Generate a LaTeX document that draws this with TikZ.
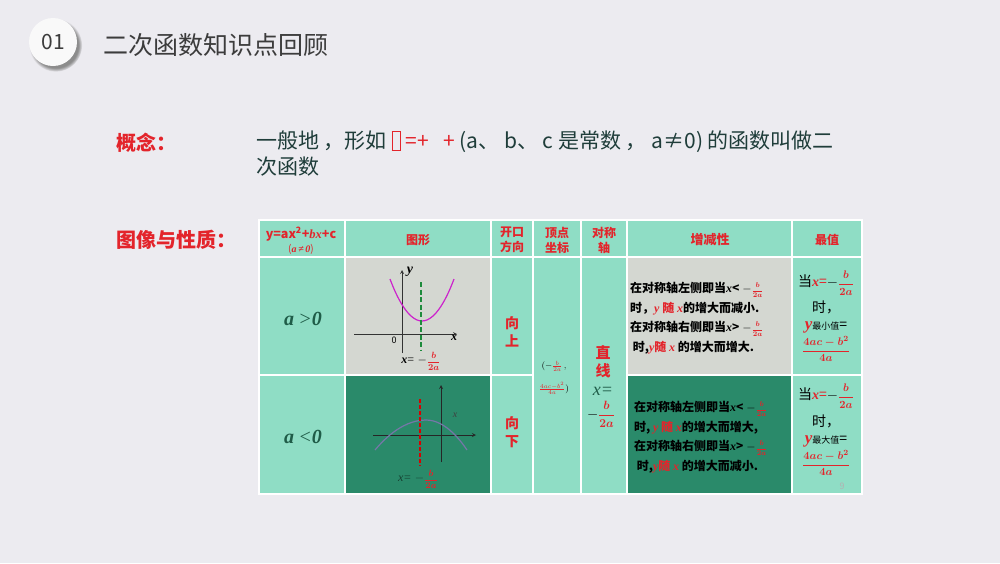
\documentclass[tikz,border=0pt]{standalone}
\usepackage{amsmath, amssymb, bm}
\usepackage[no-math]{fontspec}
\setmainfont{Noto Sans CJK SC}
\newfontfamily\tnr{Liberation Serif}
\usetikzlibrary{positioning, arrows, calc, shadows}
\definecolor{bg}{HTML}{ECEBF0}
\definecolor{lgreen}{HTML}{8FDDC5}
\definecolor{dgreen}{HTML}{2A8A6A}
\definecolor{lgray}{HTML}{D4D7D1}
\definecolor{pred}{HTML}{E3242B}
\definecolor{ink}{HTML}{1F3D3A}
\definecolor{titlegray}{HTML}{3C3C3C}
\definecolor{dashgreen}{HTML}{1E8B3C}
\definecolor{curvegray}{HTML}{7577A8}
\definecolor{plum}{HTML}{CC22CC}
\definecolor{dtext}{HTML}{1F5C48}
\newcommand{\fsz}[2]{\fontsize{#1}{#2}\selectfont}
\newcommand{\tofu}{\raisebox{-0.05em}{\fboxsep=0pt\fboxrule=0.6pt\framebox[0.45em][c]{\rule{0pt}{0.85em}}}}
\newcommand{\bi}[1]{{\tnr\bfseries\itshape #1}}
\newcommand{\hb}{\textcolor{pred}{\frac{b}{2a}}}
\newcommand{\fr}[1]{\mbox{\fsz{#1}{#1}\boldmath$\textcolor{pred}{\dfrac{b}{2a}}$}}
\newcommand{\frv}[1]{\mbox{\fsz{#1}{#1}\boldmath$\textcolor{pred}{\dfrac{4ac-b^2}{4a}}$}}
\tikzset{
  slide/.style={
	x=1pt, y=-1pt, % one unit is one pixel, y grows downwards
	>=stealth, % small filled arrow heads on the axes
  },
  cell/.style={draw=white, line width=2pt}, % table cells, white rules between them
  head/.style={text=pred, font=\bfseries\fsz{12}{15}, align=center, inner sep=0pt},
  redlbl/.style={text=pred, font=\bfseries\fsz{20}{24}, anchor=west},
  body/.style={text=ink, font=\fsz{21}{24}, anchor=west, inner sep=0pt},
  axis/.style={->, line width=0.8pt},
  zeng/.style={font=\bfseries\fsz{12}{19.5}, align=left, anchor=west, inner sep=0pt},
  zhi/.style={font=\fsz{14}{16}, inner sep=0pt},
}

\begin{document}
\begin{tikzpicture}[slide]
\useasboundingbox (0,0) rectangle (1000,563);
\fill[bg] (0,0) rectangle (1000,563);

% title
\node[circle, minimum size=48pt, inner sep=0pt, fill=white!95!gray,
  circular drop shadow={shadow xshift=2.5pt, shadow yshift=-3pt, fill=black!45},
  text=titlegray, font=\fsz{21}{24}] (num) at (53,42) {01};
\node[right=23pt of num, yshift=-3pt, text=titlegray, font=\fsz{25}{28}] (ttl) {二次函数知识点回顾};

% concept
\node[redlbl] (gn) at (113,143) {概念：};
\node[body] (def1) at (256,142) {一般地 ，形如 {\color{pred}\tofu\ =+\ \ \ +} (a、 b、 c 是常数 ， a≠0) 的函数叫做二};
\node[body] (def2) at (256,167) {次函数};
\node[redlbl] (tx) at (113,240) {图像与性质：};

% table
\foreach \xa/\xb in {259/345, 345/491, 491/533, 533/581, 581/627, 627/792, 792/862}
  \path[cell, fill=lgreen] (\xa,220) rectangle (\xb,257);
\foreach \xa/\xb/\ca/\cb in {259/345/lgreen/lgreen, 345/491/lgray/dgreen, 491/533/lgreen/lgreen,
  627/792/lgray/dgreen, 792/862/lgreen/lgreen} {
  \path[cell, fill=\ca] (\xa,257) rectangle (\xb,375);
  \path[cell, fill=\cb] (\xa,375) rectangle (\xb,494);
}
\foreach \xa/\xb in {533/581, 581/627}
  \path[cell, fill=lgreen] (\xa,257) rectangle (\xb,494);

% header
\node[head, font=\bfseries\fsz{12.5}{14}] (h1) at (301,234) {y=ax\textsuperscript{2}+\bi{bx}+c};
\node[head, font=\fsz{10}{11}, below=3pt of h1] (h1b) {(\bi{a}\,\bi{≠}\,\bi{0})};
\node[head] (h2) at (418,240) {图形};
\node[head] (h3) at (512,240) {开口\\方向};
\node[head] (h4) at (557,240) {顶点\\坐标};
\node[head] (h5) at (604,240) {对称\\轴};
\node[head, font=\bfseries\fsz{13}{15}] (h6) at (710,240) {增减性};
\node[head] (h7) at (827,240) {最值};

% a > 0 and a < 0
\node[text=dtext, font=\fsz{20}{22}] (ap) at (303,319) {\bi{a} {\tnr\itshape >}\bi{0}};
\node[text=dtext, font=\fsz{20}{22}] (an) at (303,437) {\bi{a} {\tnr\itshape <}\bi{0}};

% plot for a > 0
\coordinate (x1a) at (354,334); \coordinate (x1b) at (457,334);
\coordinate (y1a) at (402,353); \coordinate (y1b) at (402,270);
\coordinate (s1a) at (421,282); \coordinate (s1b) at (421,350);
\draw[axis, black!80] (x1a) -- (x1b);
\draw[axis, black!80] (y1a) -- (y1b);
\draw[plum, line width=1.2pt] (390,279) parabola bend (422,321) (454,279);
\draw[dashgreen, line width=2.4pt, dash pattern=on 5pt off 2.5pt] (s1a) -- (s1b);
\node[font=\fsz{14}{14}, inner sep=1pt] (ly1) at (410,272) {\bi{y}};
\node[font=\fsz{12}{12}, inner sep=1pt] (lx1) at (454,338) {\bi{x}};
\node[font=\fsz{9}{10}, inner sep=1pt] (lo1) at (394,340) {0};
\node[font=\fsz{12}{14}, inner sep=0pt] (la1) at (421,361) {\bi{x}{\tnr=}\;$-$\fr{9}};

% plot for a < 0
\coordinate (x2a) at (373,435); \coordinate (x2b) at (476,435);
\coordinate (y2a) at (441,462); \coordinate (y2b) at (441,385);
\coordinate (s2a) at (420,399); \coordinate (s2b) at (420,466);
\draw[axis, black!85] (x2a) -- (x2b);
\draw[axis, black!85] (y2a) -- (y2b);
\draw[curvegray, line width=1.2pt] (375,450) parabola bend (426,420) (467,450);
\draw[red!85!black, line width=2.4pt, dash pattern=on 4pt off 2pt] (s2a) -- (s2b);
\node[text=black!75, font=\fsz{10}{10}, inner sep=1pt] (lx2) at (455,415) {{\tnr\itshape x}};
\node[text=dtext!70!black, font=\fsz{12}{14}, inner sep=0pt] (la2) at (418,479) {{\tnr\itshape x=}\;$-$\fr{9}};

% opening
\node[head, font=\bfseries\fsz{14}{18}] (up) at (512,332) {向\\上};
\node[head, font=\bfseries\fsz{14}{18}] (dn) at (512,432) {向\\下};

% vertex
\node[font=\fsz{9}{23}, align=center, inner sep=0pt] (vx) at (554,378) {$(-\hb\,,$\\$\textcolor{pred}{\frac{4ac-b^2}{4a}})$};

% axis of symmetry
\node[head, font=\bfseries\fsz{15}{18}] (zx) at (603,362) {直\\线};
\node[text=dtext, font=\fsz{18}{18}, inner sep=0pt] (zx2) at (603,391) {{\tnr\itshape x=}};
\node[font=\fsz{14}{16}, inner sep=0pt] (zx3) at (601,414) {$-$\fr{13}};

% monotonicity
\node[zeng] (z1) at (630,318) {在对称轴左侧即当\bi{x}<\ $-$\fr{7.5}\\时，{\color{pred}\bi{y} 随 \bi{x}}的增大而减小.\\在对称轴右侧即当\bi{x}>\ $-$\fr{7.5}\\ \ 时,{\color{pred}\bi{y}随 \bi{x}} 的增大而增大.};
\node[zeng] (z2) at (634,437) {在对称轴左侧即当\bi{x}<\ $-$\fr{7.5}\\时, {\color{pred}\bi{y} 随 \bi{x}}的增大而增大,\\在对称轴右侧即当\bi{x}>\ $-$\fr{7.5}\\ \ 时,{\color{pred}\bi{y}随 \bi{x}} 的增大而减小.};

% extreme values
\node[zhi] (m1) at (826,283) {当{\color{pred}\bi{x}=}$-$\fr{11}};
\node[zhi] (m2) at (826,307) {时，};
\node[zhi] (m3) at (826,327) {{\color{pred}\fsz{17}{17}\bi{y}}{\fsz{9}{10}最小值}=};
\node[zhi] (m4) at (826,349) {\frv{11}};
\node[zhi] (n1) at (826,396) {当{\color{pred}\bi{x}=}$-$\fr{11}};
\node[zhi] (n2) at (826,421) {时，};
\node[zhi] (n3) at (826,441) {{\color{pred}\fsz{17}{17}\bi{y}}{\fsz{9}{10}最大值}=};
\node[zhi] (n4) at (826,463) {\frv{11}};

\node[text=gray!60, font=\fsz{9}{10}] (pg) at (842,486) {9};
\end{tikzpicture}
\end{document}
